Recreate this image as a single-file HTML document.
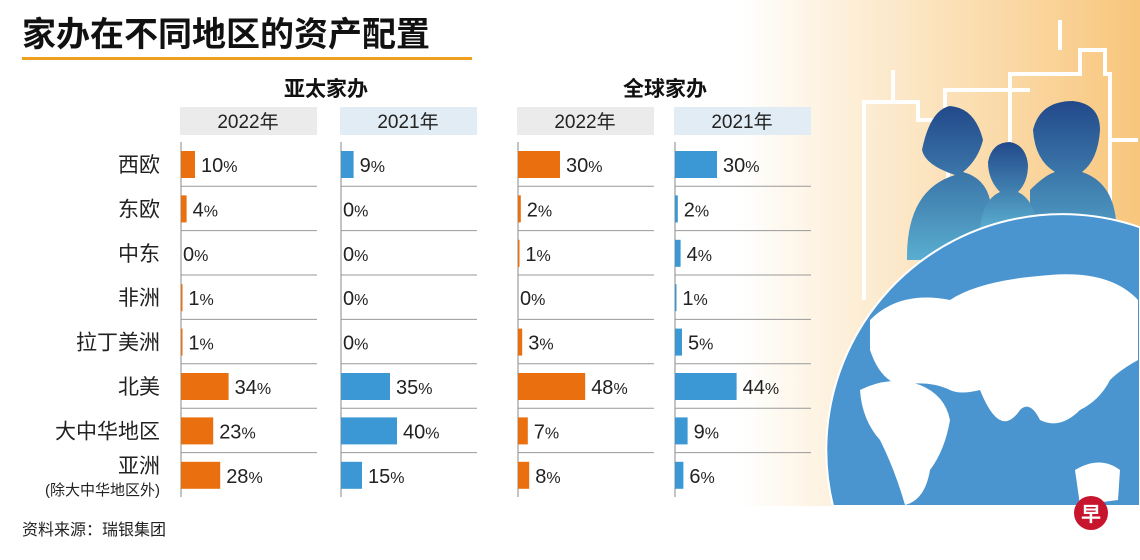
<!DOCTYPE html>
<html><head><meta charset="utf-8">
<style>
html,body{margin:0;width:1140px;height:560px;overflow:hidden;background:#fff;font-family:"Liberation Sans","Noto Sans CJK SC",sans-serif;}
svg{position:absolute;left:0;top:0;display:block}
</style></head>
<body>
<svg id="chart" width="1140" height="560">
<defs>
<linearGradient id="bg" x1="0" y1="0" x2="1" y2="0">
<stop offset="0" stop-color="#fff"/>
<stop offset="0.25" stop-color="#fdf0db"/>
<stop offset="1" stop-color="#f8c67c"/>
</linearGradient>
<linearGradient id="ppl" x1="0" y1="0" x2="0" y2="1">
<stop offset="0" stop-color="#22498a"/><stop offset="1" stop-color="#5aaed0"/>
</linearGradient>
</defs>
<g>
<rect x="740" y="0" width="400" height="506" fill="url(#bg)"/>
<g fill="none" stroke="#fff" stroke-width="4">
<path d="M864 300 V102 H918 V120 H948 V300"/>
<line x1="893" y1="70" x2="893" y2="102"/>
<path d="M945 160 V90 H1030"/>
<path d="M1010 300 V74 H1080 V50 H1105 V74 H1110 V300"/>
<line x1="1060" y1="20" x2="1060" y2="50"/>
<path d="M1110 140 H1138"/>
</g>
<g fill="url(#ppl)">
<path d="M907 260 Q906 190 955 175 Q925 165 922 150 Q930 110 950 106 Q975 108 983 140 Q978 160 963 172 Q985 178 990 200 L990 260 Z"/>
<path d="M1030 260 L1030 190 Q1045 175 1055 172 Q1035 160 1033 130 Q1040 101 1073 101 Q1100 104 1100 130 Q1098 160 1082 172 Q1112 182 1116 220 L1116 260 Z"/>
<path d="M980 230 Q982 200 1000 192 Q988 180 988 162 Q992 142 1010 142 Q1026 145 1028 165 Q1028 182 1018 192 Q1035 200 1038 230 Z"/>
</g>
<path d="M833 506 A236 236 0 0 1 1140 227.3 L1140 506 Z" fill="#4a95d0" stroke="#fff" stroke-width="2"/>
<g fill="#fff">
<path d="M870 320 Q900 290 950 300 Q980 280 1050 275 Q1110 270 1138 300 L1138 360 Q1120 370 1110 380 Q1100 400 1080 410 Q1060 430 1040 420 Q1030 400 1020 410 Q1000 440 980 390 Q960 395 950 390 Q930 380 900 385 Q880 380 870 350 Z"/>
<path d="M860 390 Q890 375 920 385 Q945 395 950 420 Q945 450 930 470 Q925 500 905 505 Q895 470 880 440 Q862 420 860 390 Z"/>
<path d="M1075 470 Q1100 455 1120 470 L1118 500 L1080 505 Z"/>
</g>
</g>
<circle cx="1091" cy="513" r="17" fill="#c8152e"/>
<text x="1091" y="521" font-size="20" fill="#fff" text-anchor="middle" font-weight="bold">早</text>
<text x="22" y="46" font-size="34" font-weight="bold" fill="#111">家办在不同地区的资产配置</text>
<rect x="22" y="57" width="450" height="3" fill="#f0a020"/>
<text x="326" y="96" font-size="21" font-weight="bold" text-anchor="middle" fill="#111">亚太家办</text>
<text x="665" y="96" font-size="21" font-weight="bold" text-anchor="middle" fill="#111">全球家办</text>
<g id="plot"></g>
<text x="22" y="535" font-size="16" fill="#222">资料来源：瑞银集团</text>
</svg>
<script>
const regions=["西欧","东欧","中东","非洲","拉丁美洲","北美","大中华地区","亚洲"];
const apac2022=[10,4,0,1,1,34,23,28];
const apac2021=[9,0,0,0,0,35,40,15];
const global2022=[30,2,1,0,3,48,7,8];
const global2021=[30,2,4,1,5,44,9,6];
const headers=["2022年","2021年","2022年","2021年"];
const NS="http://www.w3.org/2000/svg";
const g=document.getElementById('plot');
function mk(t,a,txt){const e=document.createElementNS(NS,t);for(const k in a)e.setAttribute(k,a[k]);if(txt!==undefined)e.textContent=txt;g.appendChild(e);return e;}
const y0=164,step=44.4,scale=1.4;
function rowY(i){return y0+i*step;}
const cols=[{x:181,d:apac2022,c:"#ea700f",h:"#ebebeb"},{x:341,d:apac2021,c:"#3b98d4",h:"#e1ecf4"},{x:518,d:global2022,c:"#ea700f",h:"#ebebeb"},{x:675,d:global2021,c:"#3b98d4",h:"#e1ecf4"}];
regions.forEach((r,i)=>{
  const y=rowY(i);
  if(i===7){
    const t=mk('text',{x:160,y:y-2,'font-size':21,'text-anchor':'end',fill:'#222'},r);
    
    
    const t2=mk('text',{x:160,y:y+20,'font-size':15,'text-anchor':'end',fill:'#222'},"(除大中华地区外)");
    
    
  }else{
    const t=mk('text',{x:160,y:y+8,'font-size':21,'text-anchor':'end',fill:'#222'},r);
    
    
  }
});
cols.forEach((c,ci)=>{
  const hb=mk('rect',{x:c.x-1,y:107,width:137,height:28,fill:c.h});
  
  
  const ht=mk('text',{x:c.x+67,y:128,'font-size':19,'text-anchor':'middle',fill:'#222'},headers[ci]);
  
  
  const ax=mk('line',{x1:c.x,y1:142,x2:c.x,y2:497,stroke:'#888','stroke-width':1});
  
  
  for(let i=0;i<7;i++){
    const sy=rowY(i)+step/2;
    const sl=mk('line',{x1:c.x,y1:sy,x2:c.x+136,y2:sy,stroke:'#999','stroke-width':1});
    
    
  }
  c.d.forEach((v,i)=>{
    const y=rowY(i);const w=v*scale;
    if(v>0){
      const b=mk('rect',{x:c.x,y:y-13,width:Math.max(w,1.5),height:27,fill:c.c});
      
      
    }
    const tx=c.x+(v>0?w+6:2);
    const t=mk('text',{x:tx,y:y+8,'font-size':20,fill:'#222'});
    
    
    t.textContent=v;
    const p=document.createElementNS(NS,'tspan');p.setAttribute('font-size','16');p.textContent='%';t.appendChild(p);
  });
});
</script>
</body></html>
